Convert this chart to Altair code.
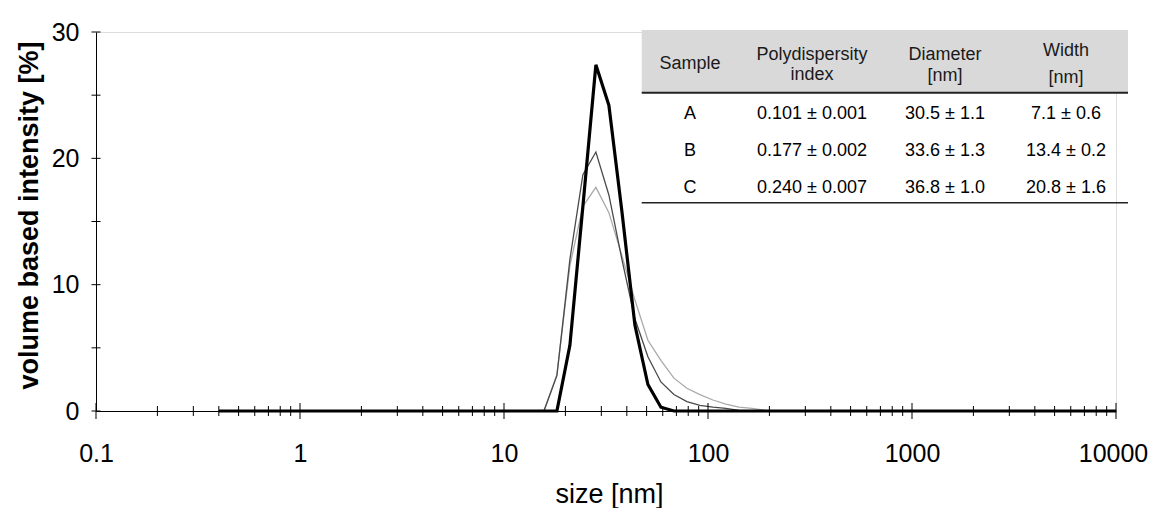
import altair as alt
import pandas as pd

# ---------------- data ----------------
sizes = [0.4, 13.54, 15.69, 18.17, 21.04, 24.36, 28.21, 32.67, 37.84, 43.82, 50.75,
         58.77, 68.06, 78.82, 91.28, 105.7, 122.4, 141.8, 164.2, 190.1, 220.2, 10000]
sample_a = [0, 0, 0, 0, 5.2, 16.2, 27.4, 24.2, 15.8, 6.8, 2.1,
            0.3, 0, 0, 0, 0, 0, 0, 0, 0, 0, 0]
sample_b = [0, 0, 0, 2.8, 12.0, 18.7, 20.5, 17.1, 12.0, 7.3, 4.3,
            2.3, 1.3, 0.75, 0.45, 0.3, 0.2, 0.05, 0, 0, 0, 0]
sample_c = [0, 0, 0, 2.9, 11.5, 16.2, 17.7, 15.7, 12.3, 8.8, 5.6,
            4.0, 2.6, 1.8, 1.3, 0.87, 0.55, 0.3, 0.2, 0.05, 0, 0]

table_samples = ["A", "B", "C"]
table_pdi = ["0.101 ± 0.001", "0.177 ± 0.002", "0.240 ± 0.007"]
table_diameter = ["30.5 ± 1.1", "33.6 ± 1.3", "36.8 ± 1.0"]
table_width = ["7.1 ± 0.6", "13.4 ± 0.2", "20.8 ± 1.6"]

x_major = [0.1, 1, 10, 100, 1000, 10000]
x_minor = [0.2, 0.3, 0.4, 0.5, 0.6, 0.7, 0.8, 0.9,
           2, 3, 4, 5, 6, 7, 8, 9,
           20, 30, 40, 50, 60, 70, 80, 90,
           200, 300, 400, 500, 600, 700, 800, 900,
           2000, 3000, 4000, 5000, 6000, 7000, 8000, 9000]
y_major = [0, 10, 20, 30]
y_minor = [5, 15, 25]

# ---------------- layout ----------------
W, H = 1020, 379
FONT = "Liberation Sans, Arial, Helvetica, sans-serif"

df = pd.concat([
    pd.DataFrame({"size": sizes, "value": sample_a, "series": "A"}),
    pd.DataFrame({"size": sizes, "value": sample_b, "series": "B"}),
    pd.DataFrame({"size": sizes, "value": sample_c, "series": "C"}),
])

xscale = alt.Scale(type="log", domain=[0.1, 10000], nice=False)
yscale = alt.Scale(domain=[0, 30], nice=False, zero=True)

xaxis = alt.Axis(values=x_major, format="~g", title="size [nm]", grid=False,
                 ticks=False, tickSize=0, labelPadding=30, labelFlush=False,
                 labelOffset={"condition": {"test": "datum.value >= 10000", "value": -3}, "value": 0},
                 labelOverlap=False, labelFontSize=25, labelFont=FONT, labelColor="black",
                 titleFont=FONT, titleFontSize=27, titleFontWeight="normal", titleColor="black",
                 titleX=513, titleY=91, titleBaseline="alphabetic", titleAlign="center",
                 domainColor="black", domainWidth=1)
yaxis = alt.Axis(values=y_major, title="volume based intensity [%]", grid=False,
                 ticks=False, tickSize=0, labelPadding=17, labelFontSize=25, labelFont=FONT,
                 labelColor="black", titleFont=FONT, titleFontSize=27, titleFontWeight="bold",
                 titleColor="black", titleAngle=-90, titleX=-59, titleY=183,
                 titleBaseline="alphabetic", titleAlign="center",
                 domainColor="black", domainWidth=1)

styles = {"C": ("#a9a9a9", 1.3), "B": ("#4a4a4a", 1.3), "A": ("#000000", 3.2)}

layers = []
for s in ["C", "B", "A"]:
    col, sw = styles[s]
    layers.append(
        alt.Chart(df).transform_filter(alt.datum.series == s)
        .mark_line(color=col, strokeWidth=sw, strokeJoin="miter")
        .encode(x=alt.X("size:Q", scale=xscale, axis=xaxis),
                y=alt.Y("value:Q", scale=yscale, axis=yaxis))
    )

# crossing tick marks on the axes
xt_major = pd.DataFrame({"size": x_major, "value": 0})
xt_minor = pd.DataFrame({"size": x_minor, "value": 0})
yt = pd.DataFrame({"value": y_major + y_minor, "size": 0.1})

for d, ln, ori in [(xt_major, 16, "vertical"), (xt_minor, 10, "vertical"), (yt, 9, "horizontal")]:
    layers.append(alt.Chart(d).mark_tick(orient=ori, size=ln, thickness=1, color="black", opacity=1)
                  .encode(x=alt.X("size:Q", scale=xscale, axis=xaxis),
                          y=alt.Y("value:Q", scale=yscale, axis=yaxis)))

# ---------------- table overlay ----------------
dummy = alt.Data(values=[{}])
TX0, TX1 = 545.7, 1032
layers.append(alt.Chart(dummy).mark_rect(color="#d9d9d9")
              .encode(x=alt.value(TX0), x2=alt.value(TX1), y=alt.value(-2), y2=alt.value(60)))
layers.append(alt.Chart(dummy).mark_rule(color="#222222", strokeWidth=2)
              .encode(x=alt.value(TX0), x2=alt.value(TX1), y=alt.value(60.7)))
layers.append(alt.Chart(dummy).mark_rule(color="#222222", strokeWidth=1.5)
              .encode(x=alt.value(TX0), x2=alt.value(TX1), y=alt.value(170.7)))

col_x = [594, 716, 849, 970]
header = [
    ("Sample", 0, 32),
    ("Polydispersity", 1, 23), ("index", 1, 42.5),
    ("Diameter", 2, 22.5), ("[nm]", 2, 44),
    ("Width", 3, 19), ("[nm]", 3, 46),
]
for txt, ci, yy in header:
    layers.append(alt.Chart(dummy).mark_text(text=txt, font=FONT, fontSize=18, color="#1a1a1a",
                                             align="center", baseline="middle")
                  .encode(x=alt.value(col_x[ci]), y=alt.value(yy)))

row_y = [82, 118.8, 155.7]
for ri in range(3):
    for ci, colvals in enumerate([table_samples, table_pdi, table_diameter, table_width]):
        layers.append(alt.Chart(dummy).mark_text(text=colvals[ri], font=FONT, fontSize=18, color="black",
                                                 align="center", baseline="middle")
                      .encode(x=alt.value(col_x[ci]), y=alt.value(row_y[ri])))

chart = (
    alt.layer(*layers)
    .properties(
        width=W, height=H,
        autosize=alt.AutoSizeParams(type="none"),
        padding={"left": 88, "top": 24, "right": 32, "bottom": 97},
    )
    .configure_view(stroke=None, strokeWidth=0)
    .configure_axis(grid=False)
    .configure_axisTop(domain=False, labels=False, ticks=False, grid=False)
    .configure_axisRight(domain=False, labels=False, ticks=False, grid=False)
    .configure(background="white")
)

chart.save("out.html", embed_options={"renderer": "svg", "actions": False})
